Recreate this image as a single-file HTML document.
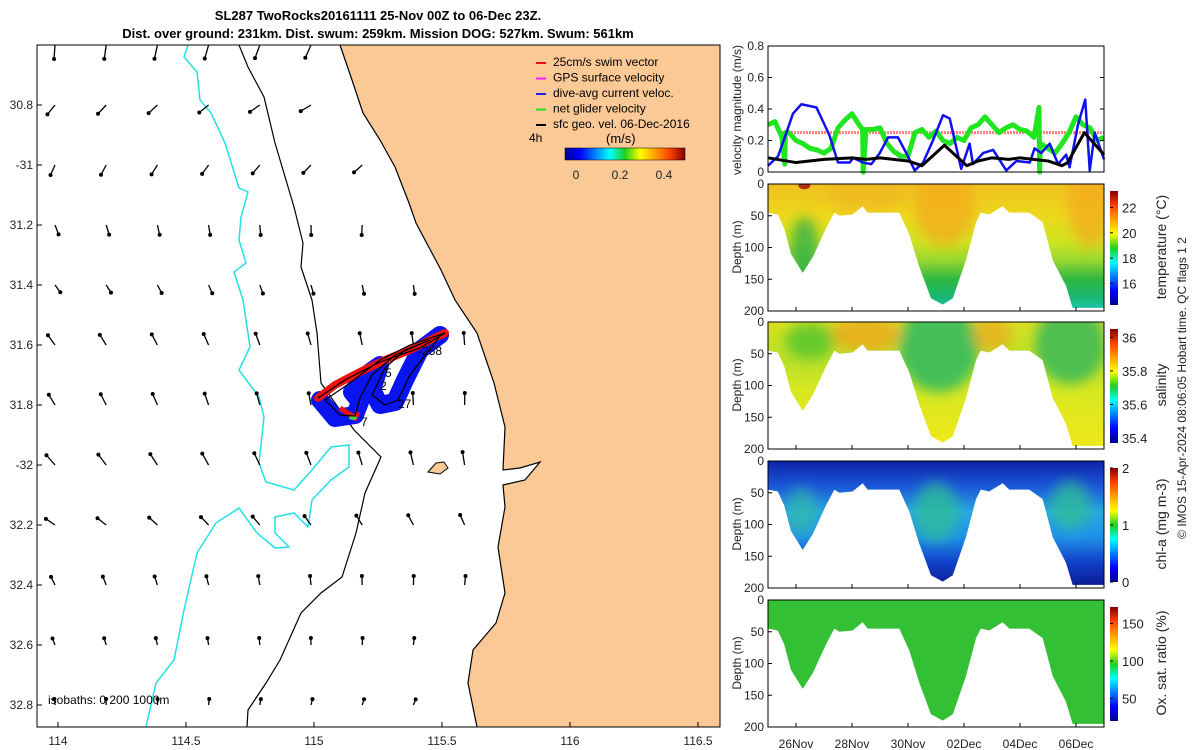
<!DOCTYPE html>
<html><head><meta charset="utf-8"><style>
body{margin:0;background:#fff}
svg{display:block;font-family:"Liberation Sans","DejaVu Sans",sans-serif}
</style></head><body>
<svg id="s" width="1200" height="750" viewBox="0 0 1200 750" xmlns="http://www.w3.org/2000/svg">
<defs>
<filter id="bl" x="-50%" y="-50%" width="200%" height="200%"><feGaussianBlur stdDeviation="6"/></filter>
<linearGradient id="jetH" x1="0" x2="1" y1="0" y2="0">
<stop offset="0" stop-color="#00008f"/><stop offset="0.125" stop-color="#0000ff"/><stop offset="0.375" stop-color="#00ffff"/><stop offset="0.5" stop-color="#20d020"/><stop offset="0.625" stop-color="#ffff00"/><stop offset="0.875" stop-color="#ff4000"/><stop offset="1" stop-color="#800000"/></linearGradient>
<linearGradient id="jetV" x1="0" x2="0" y1="1" y2="0">
<stop offset="0" stop-color="#00008f"/><stop offset="0.125" stop-color="#0000ff"/><stop offset="0.375" stop-color="#00ffff"/><stop offset="0.5" stop-color="#20d020"/><stop offset="0.625" stop-color="#ffff00"/><stop offset="0.875" stop-color="#ff4000"/><stop offset="1" stop-color="#800000"/></linearGradient>
<linearGradient id="gT" x1="0" x2="0" y1="0" y2="1">
<stop offset="0" stop-color="#f0c020"/><stop offset="0.25" stop-color="#ecd81c"/><stop offset="0.45" stop-color="#d0e420"/><stop offset="0.6" stop-color="#98d830"/><stop offset="0.75" stop-color="#30b840"/><stop offset="0.9" stop-color="#18b878"/><stop offset="1" stop-color="#20c8b8"/></linearGradient>
<linearGradient id="gS" x1="0" x2="0" y1="0" y2="1">
<stop offset="0" stop-color="#d8e020"/><stop offset="0.3" stop-color="#b8e028"/><stop offset="0.55" stop-color="#d8e820"/><stop offset="1" stop-color="#f0e818"/></linearGradient>
<linearGradient id="gC" x1="0" x2="0" y1="0" y2="1">
<stop offset="0" stop-color="#0d22a8"/><stop offset="0.2" stop-color="#1a58d8"/><stop offset="0.4" stop-color="#28a8e0"/><stop offset="0.6" stop-color="#2090e8"/><stop offset="0.8" stop-color="#1040c8"/><stop offset="1" stop-color="#0a1890"/></linearGradient>
</defs>
<g id="map"></g>
<g id="right"></g>
<text x="378" y="20" font-size="13" font-weight="bold" text-anchor="middle">SL287 TwoRocks20161111 25-Nov 00Z to 06-Dec 23Z.</text>
<text x="378" y="38" font-size="13" font-weight="bold" text-anchor="middle">Dist. over ground: 231km. Dist. swum: 259km. Mission DOG: 527km. Swum: 561km</text>
<text transform="translate(1186,388) rotate(-90)" font-size="12" text-anchor="middle" fill="#222">© IMOS 15-Apr-2024 08:06:05 Hobart time. QC flags 1  2</text>
</svg>
<script>
// ---------- data ----------
const mapXTicks=[114,114.5,115,115.5,116,116.5];
const mapYTicks=[30.8,31,31.2,31.4,31.6,31.8,32,32.2,32.4,32.6,32.8];
const mapYLabels=["30.8","-31","31.2","31.4","31.6","31.8","-32","32.2","32.4","32.6","32.8"];
const arrowRowLat=[30.6,30.8,31,31.2,31.4,31.6,31.8,32,32.2,32.4,32.6,32.8];
const arrowRowDir=[200,235,220,175,160,340,345,335,320,350,355,10];
const arrowRowLen=[14,12,11,10,9,12,12,13,11,9,7,6];
const arrowColLon=[114,114.2,114.4,114.6,114.8,115,115.2,115.4,115.6];
const blueVel_t=[0,0.36,0.6,0.89,1.19,1.73,2.02,2.2,2.5,2.92,3.04,3.39,3.69,3.99,4.29,4.64,4.94,5.24,5.54,5.89,6.25,6.49,6.9,7.2,7.32,7.68,8.04,8.51,8.87,9.35,9.52,9.76,10.06,10.36,10.65,10.77,11.07,11.33,11.49,11.67,12];
const blueVel_v=[0.04,0.1,0.22,0.37,0.43,0.41,0.3,0.23,0.06,0.06,0.09,0.06,0.05,0.12,0.22,0.22,0.12,0.01,0.06,0.2,0.36,0.34,0.02,0.18,0.05,0.12,0.14,0.01,0.07,0.06,0.15,0.12,0.18,0.05,0.11,0.03,0.3,0.46,0.01,0.25,0.08];
const blackVel_t=[0,1,2,3,3.5,4,5,5.5,6.3,7.1,7.5,8,8.6,9,10,10.5,10.7,11.3,12];
const blackVel_v=[0.09,0.06,0.08,0.09,0.08,0.09,0.07,0.04,0.17,0.04,0.07,0.09,0.08,0.09,0.07,0.04,0.06,0.25,0.11];
const greenVel_t=[0,0.25,0.5,0.6,0.62,0.75,1,1.25,1.5,1.75,2,2.25,2.5,2.75,3,3.25,3.38,3.4,3.5,3.75,4,4.25,4.5,4.75,5,5.25,5.5,5.75,6,6.25,6.5,6.75,7,7.25,7.5,7.75,8,8.25,8.5,8.75,9,9.25,9.5,9.68,9.7,9.72,9.75,10,10.25,10.5,10.75,11,11.25,11.5,11.75,12];
const greenVel_v=[0.3,0.32,0.22,0.05,0.25,0.25,0.2,0.18,0.15,0.14,0.12,0.15,0.28,0.33,0.37,0.3,0.27,0.0,0.27,0.27,0.28,0.18,0.13,0.1,0.1,0.25,0.27,0.22,0.26,0.2,0.18,0.22,0.2,0.28,0.3,0.35,0.3,0.25,0.28,0.3,0.27,0.26,0.22,0.41,0.0,0.18,0.18,0.15,0.12,0.18,0.25,0.35,0.3,0.28,0.2,0.22];
const swimVel=0.25;
const env_t=[0,0.35,0.58,0.82,1.24,1.6,2.07,2.37,2.55,3.02,3.38,3.56,4.69,5.05,5.4,5.82,6.24,6.6,7.07,7.43,7.6,7.9,8.38,8.62,9.33,9.81,10.17,10.64,10.88,12];
const env_d=[45,48,70,110,140,115,70,45,50,48,35,45,45,80,130,180,190,180,120,60,45,48,35,45,45,60,120,160,195,195];
const dateTicks=["26Nov","28Nov","30Nov","02Dec","04Dec","06Dec"];
const dateTickDay=[1,3,5,7,9,11];
const velTicks=[0,0.2,0.4,0.6,0.8];
const depthTicks=[0,50,100,150,200];
const panels=[
 {name:"temperature",top:184,fill:"url(#gT)",label:"temperature (°C)",ticks:["22","20","18","16"],tv:[22,20,18,16],min:14.3,max:23.3},
 {name:"salinity",top:322,fill:"url(#gS)",label:"salinity",ticks:["36","35.8","35.6","35.4"],tv:[36,35.8,35.6,35.4],min:35.37,max:36.05},
 {name:"chl-a",top:461,fill:"url(#gC)",label:"chl-a (mg m-3)",ticks:["2","1","0"],tv:[2,1,0],min:0,max:2},
 {name:"oxygen",top:600,fill:"#34c034",label:"Ox. sat. ratio (%)",ticks:["150","100","50"],tv:[150,100,50],min:20,max:172}
];
// ---------- scales ----------
const NS="http://www.w3.org/2000/svg";
function mk(tag,attrs,parent){const e=document.createElementNS(NS,tag);for(const k in attrs)e.setAttribute(k,attrs[k]);parent.appendChild(e);return e;}
const lonX=l=>58+(l-114)*256;
const latY=l=>105+(l-30.8)*300;
const tX=d=>768+d*28;
const vY=v=>172-v/0.8*126;
const dY=(top,d)=>top+d/200*127;
const map=document.getElementById('map'), right=document.getElementById('right');
// ---------- map ----------
const coast=[[340,45],[352,80],[363,113],[380,140],[395,167],[409,203],[416,223],[441,270],[455,300],[477,333],[494,383],[505,427],[503,470],[520,468],[540,462],[525,480],[503,485],[505,507],[498,547],[505,593],[496,623],[473,650],[468,683],[477,727]];
let land=mk('polygon',{points:coast.map(p=>p.join(',')).join(' ')+' 720,727 720,45',fill:'#fbc996',stroke:'none'},map);

let cl=mk('polyline',{points:coast.map(p=>p.join(',')).join(' '),fill:'none',stroke:'#000','stroke-width':1.2},map);

let isl=mk('path',{d:'M428,472 L436,463 L444,462 L448,468 L440,474 Z',fill:'#fbc996',stroke:'#000','stroke-width':1},map);

const iso200=[[239,45],[248,67],[264,97],[275,143],[294,207],[303,243],[301,267],[312,300],[317,333],[321,383],[354,430],[381,457],[365,493],[356,533],[342,577],[321,593],[301,613],[280,660],[266,683],[248,710],[247,727]];
let i2=mk('polyline',{points:iso200.map(p=>p.join(',')).join(' '),fill:'none',stroke:'#000','stroke-width':1.2},map);

const iso1000=[[188,45],[184,57],[197,72],[200,100],[211,113],[225,143],[239,188],[248,192],[241,217],[239,240],[246,263],[234,272],[243,300],[250,347],[239,370],[259,397],[264,417],[259,463],[266,482],[294,490],[312,470],[331,447],[349,445],[349,467],[331,480],[312,500],[308,527],[294,513],[275,517],[275,533],[289,547],[275,548],[257,533],[239,508],[216,523],[197,553],[184,610],[174,660],[156,683],[146,727]];
let i1=mk('polyline',{points:iso1000.map(p=>p.join(',')).join(' '),fill:'none',stroke:'#22e0e8','stroke-width':1.5},map);

arrowRowLat.forEach((lat,r)=>{arrowColLon.forEach((lon,c)=>{
 const x=lonX(lon)-3,y=latY(lat);
 if(x>coast.reduce((a,p)=>Math.abs(p[1]-y)<Math.abs(a[1]-y)?p:a)[0]-12) return;
 const a=(arrowRowDir[r]+(c-4)*4)*Math.PI/180,L=arrowRowLen[r];
 const x2=x+Math.sin(a)*L,y2=y-Math.cos(a)*L;
 const g=mk('g',{},map);
 
 
 mk('line',{x1:x,y1:y,x2:x2,y2:y2,stroke:'#000','stroke-width':1.3},g);
 mk('circle',{cx:x2,cy:y2,r:2,fill:'#000'},g);
});});
const trk=[[318,398],[335,385],[360,372],[385,360],[410,350],[430,340],[445,333]];
const trk2=[[320,400],[335,418],[355,415],[360,402],[352,392],[370,372],[380,365],[372,390],[380,405],[395,402],[405,380],[420,350],[440,335]];
let gb=mk('polyline',{points:trk2.map(p=>p.join(',')).join(' '),fill:'none',stroke:'#0a14f0','stroke-width':18,'stroke-linejoin':'round','stroke-linecap':'round'},map);

let gr=mk('polyline',{points:trk.map(p=>p.join(',')).join(' '),fill:'none',stroke:'#f01010','stroke-width':8,'stroke-linecap':'round'},map);

mk('polyline',{points:'340,408 355,418 358,412',fill:'none',stroke:'#f01010','stroke-width':5},map);
mk('ellipse',{cx:353,cy:418,rx:4,ry:2,fill:'#3ed03e'},map);
let gt=mk('polyline',{points:'318,398 345,380 380,362 420,348 445,333 410,345 380,360 350,383 325,400 340,415 355,416 360,398 372,375 395,355 430,340 405,350 385,368 372,395 385,405 398,400 410,375 440,336',fill:'none',stroke:'#000','stroke-width':1.2},map);

[["7",361,426],["27",398,408],["2",380,390],["5",385,377],["-258",418,355]].forEach(t=>{const e=mk('text',{x:t[1],y:t[2],'font-size':12},map);e.textContent=t[0];
});
let mb=mk('rect',{x:37,y:45,width:683,height:682,fill:'none',stroke:'#000','stroke-width':1},map);

mapXTicks.forEach(v=>{const x=lonX(v);mk('line',{x1:x,y1:727,x2:x,y2:722,stroke:'#000'},map);
 const t=mk('text',{x:x,y:745,'font-size':12,'text-anchor':'middle',fill:'#222'},map);t.textContent=v;
 });
mapYTicks.forEach((v,i)=>{const y=latY(v);mk('line',{x1:37,y1:y,x2:42,y2:y,stroke:'#000'},map);
 const t=mk('text',{x:33,y:y+4,'font-size':12,'text-anchor':'end',fill:'#222'},map);t.textContent=mapYLabels[i];
 });
let isoT=mk('text',{x:48,y:704,'font-size':12},map);isoT.textContent='isobaths: 0   200  1000m';

const leg=[["25cm/s swim vector","#f01010"],["GPS surface velocity","#ff20ff"],["dive-avg current veloc.","#2020ff"],["net glider velocity","#20e020"],["sfc geo. vel. 06-Dec-2016","#000"]];
leg.forEach((l,i)=>{const y=66+i*15.5;const g=mk('g',{},map);
 
 mk('line',{x1:536,y1:y-3,x2:546,y2:y-3,stroke:l[1],'stroke-width':2},g);
 const t=mk('text',{x:553,y:y,'font-size':12},g);t.textContent=l[0];});
let t4=mk('text',{x:529,y:142,'font-size':12},map);t4.textContent='4h';
let tu=mk('text',{x:606,y:143,'font-size':13},map);tu.textContent='(m/s)';
let cb=mk('rect',{x:565,y:148,width:120,height:12,fill:'url(#jetH)',stroke:'#000','stroke-width':0.5},map);

["0","0.2","0.4"].forEach((s,i)=>{const x=576+i*44;const t=mk('text',{x:x,y:179,'font-size':12,'text-anchor':'middle',fill:'#222'},map);t.textContent=s;
 });
// ---------- velocity panel ----------
const vg=mk('g',{},right);
let sl=mk('line',{x1:tX(0.5),y1:vY(swimVel),x2:tX(12),y2:vY(swimVel),stroke:'#ff8080','stroke-width':3,'stroke-dasharray':'2,1'},vg);

function series(ts,vs,col,w,name){const e=mk('polyline',{points:ts.map((t,i)=>tX(t)+','+vY(vs[i])).join(' '),fill:'none',stroke:col,'stroke-width':w,'stroke-linejoin':'round'},vg);
 }
series(greenVel_t,greenVel_v,'#20e620',5,'net-glider-velocity-line');
series(blueVel_t,blueVel_v,'#1010f0',2.5,'dive-avg-current-line');
series(blackVel_t,blackVel_v,'#000',3,'surface-geostrophic-line');
mk('rect',{x:768,y:46,width:336,height:126,fill:'none',stroke:'#000'},vg);
velTicks.forEach(v=>{const y=vY(v);mk('line',{x1:768,y1:y,x2:772,y2:y,stroke:'#000'},vg);mk('line',{x1:1104,y1:y,x2:1100,y2:y,stroke:'#000'},vg);
 const t=mk('text',{x:764,y:y+4,'font-size':12,'text-anchor':'end',fill:'#222'},vg);t.textContent=v;
 });
let vl=mk('text',{transform:'translate(741,110) rotate(-90)','font-size':12,'text-anchor':'middle',fill:'#222'},vg);vl.textContent='velocity magnitude (m/s)';

// ---------- section panels ----------
panels.forEach((p,k)=>{
 const g=mk('g',{},right);
 
 
 const pts=env_t.map((t,i)=>tX(t)+','+dY(p.top,env_d[i]));
 const poly=tX(0)+','+p.top+' '+pts.join(' ')+' '+tX(12)+','+p.top;
 const cp=mk('clipPath',{id:'c'+k},g);mk('polygon',{points:poly},cp);
 const sec=mk('g',{'clip-path':'url(#c'+k+')'},g);
 mk('rect',{x:768,y:p.top,width:336,height:127,fill:p.fill},sec);
 const fx=mk('g',{filter:'url(#bl)'},sec);
 if(k==0){mk('ellipse',{cx:tX(6.3),cy:dY(p.top,35),rx:30,ry:40,fill:'#f4a818',opacity:0.7},fx);mk('ellipse',{cx:tX(11.5),cy:dY(p.top,30),rx:22,ry:45,fill:'#f4a818',opacity:0.7},fx);mk('ellipse',{cx:tX(1.3),cy:dY(p.top,100),rx:14,ry:30,fill:'#20a848',opacity:0.7},fx);mk('ellipse',{cx:tX(3.5),cy:dY(p.top,15),rx:40,ry:20,fill:'#f0b020',opacity:0.5},fx);mk('ellipse',{cx:tX(1.3),cy:dY(p.top,2),rx:6,ry:4,fill:'#b03010'},sec);}
 if(k==1){mk('ellipse',{cx:tX(6.1),cy:dY(p.top,40),rx:40,ry:45,fill:'#30b860',opacity:0.85},fx);mk('ellipse',{cx:tX(10.8),cy:dY(p.top,35),rx:35,ry:40,fill:'#38b858',opacity:0.85},fx);mk('ellipse',{cx:tX(3.5),cy:dY(p.top,20),rx:35,ry:18,fill:'#f0a020',opacity:0.7},fx);mk('ellipse',{cx:tX(8),cy:dY(p.top,20),rx:20,ry:18,fill:'#f0a020',opacity:0.6},fx);mk('ellipse',{cx:tX(1.5),cy:dY(p.top,30),rx:25,ry:18,fill:'#40c030',opacity:0.7},fx);}
 if(k==2){mk('ellipse',{cx:tX(6),cy:dY(p.top,80),rx:22,ry:30,fill:'#30c090',opacity:0.7},fx);mk('ellipse',{cx:tX(10.8),cy:dY(p.top,70),rx:20,ry:25,fill:'#30c090',opacity:0.7},fx);mk('ellipse',{cx:tX(1.2),cy:dY(p.top,80),rx:15,ry:25,fill:'#30c0a0',opacity:0.6},fx);}
 mk('rect',{x:768,y:p.top,width:336,height:127,fill:'none',stroke:'#000'},g);
 depthTicks.forEach(d=>{const y=dY(p.top,d);mk('line',{x1:768,y1:y,x2:772,y2:y,stroke:'#000'},g);
  const t=mk('text',{x:764,y:y+4,'font-size':12,'text-anchor':'end',fill:'#222'},g);t.textContent=d;
  });
 dateTickDay.forEach(d=>mk('line',{x1:tX(d),y1:p.top+127,x2:tX(d),y2:p.top+123,stroke:'#000'},g));
 const yl=mk('text',{transform:'translate(741,'+(p.top+63)+') rotate(-90)','font-size':12,'text-anchor':'middle',fill:'#222'},g);yl.textContent='Depth (m)';
 
 const cy0=p.top+7,ch=114;
 const cbr=mk('rect',{x:1110,y:cy0,width:8,height:ch,fill:'url(#jetV)'},g);
 
 p.tv.forEach((v,i)=>{const y=cy0+ch*(1-(v-p.min)/(p.max-p.min));mk('line',{x1:1110,y1:y,x2:1113,y2:y,stroke:'#000'},g);
  const t=mk('text',{x:1122,y:y+5,'font-size':13,fill:'#222'},g);t.textContent=p.ticks[i];
  });
 const cl=mk('text',{transform:'translate(1166,'+(p.top+63)+') rotate(-90)','font-size':14,'text-anchor':'middle',fill:'#222'},g);cl.textContent=p.label;
 
});
dateTicks.forEach((s,i)=>{const t=mk('text',{x:tX(dateTickDay[i]),y:748,'font-size':12,'text-anchor':'middle',fill:'#222'},right);t.textContent=s;
 });
</script>
</body></html>
